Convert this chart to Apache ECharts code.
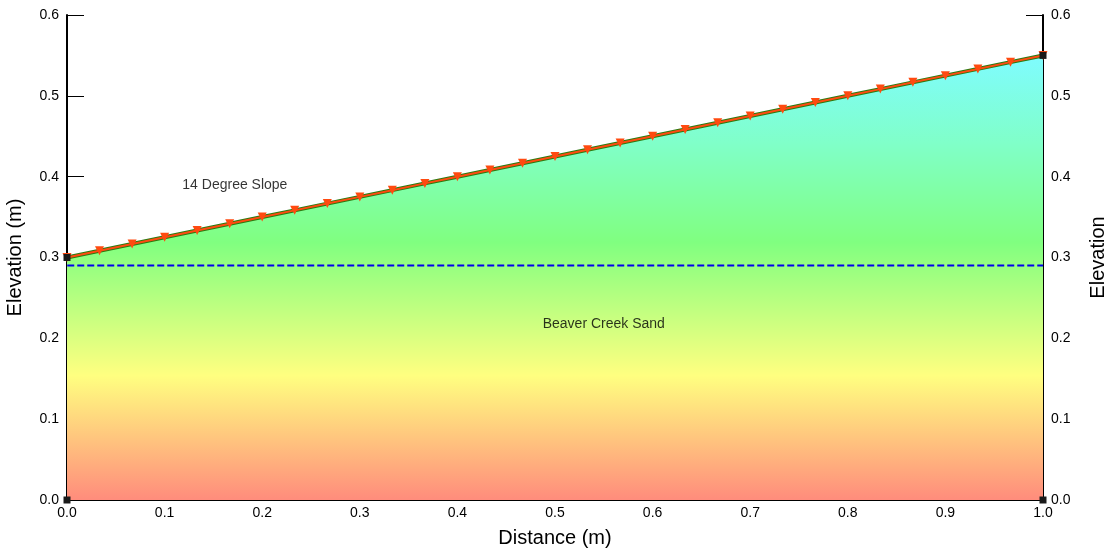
<!DOCTYPE html>
<html>
<head>
<meta charset="utf-8">
<script src="https://cdn.jsdelivr.net/npm/echarts@6/dist/echarts.min.js"></script>
<style>html,body{margin:0;padding:0;background:#fff}#c{width:1113px;height:558px}</style>
</head>
<body>
<div id="c"></div>
<script>
// slope surface points (distance m, elevation m)
const slopeX = [0, 0.0333, 0.0667, 0.1, 0.1333, 0.1667, 0.2, 0.2333, 0.2667, 0.3, 0.3333, 0.3667, 0.4, 0.4333, 0.4667, 0.5, 0.5333, 0.5667, 0.6, 0.6333, 0.6667, 0.7, 0.7333, 0.7667, 0.8, 0.8333, 0.8667, 0.9, 0.9333, 0.9667, 1.0]
const slopeY = [0.3, 0.3083, 0.3167, 0.325, 0.3333, 0.3417, 0.35, 0.3583, 0.3667, 0.375, 0.3833, 0.3917, 0.4, 0.4083, 0.4167, 0.425, 0.4333, 0.4417, 0.45, 0.4583, 0.4667, 0.475, 0.4833, 0.4917, 0.5, 0.5083, 0.5167, 0.525, 0.5333, 0.5417, 0.55]
const waterTable = [[-0.01, 0.29], [1.0, 0.29]]
const labels = [
  { text: '14 Degree Slope', at: [0.172, 0.39] },
  { text: 'Beaver Creek Sand', at: [0.55, 0.217] }
]

const pts = slopeX.map((x, i) => [x, slopeY[i]])
const font = 'Liberation Sans'
const axisCommon = {
  min: 0, max: 0.6, interval: 0.1,
  axisLine: { show: true, lineStyle: { color: '#000', width: 2 } },
  axisTick: { inside: true, length: 17, lineStyle: { color: '#000' } },
  splitLine: { show: false },
  nameLocation: 'middle',
  nameTextStyle: { fontSize: 20, fontFamily: font, color: '#000' },
  axisLabel: { fontSize: 14, fontFamily: font, color: '#000', formatter: v => v.toFixed(1) }
}
const chart = echarts.init(document.getElementById('c'))
chart.setOption({
  animation: false,
  grid: { left: 67, right: 70, top: 15, bottom: 58, containLabel: false, outerBoundsMode: 'none' },
  xAxis: {
    type: 'value', min: 0, max: 1, interval: 0.1,
    name: 'Distance (m)', nameLocation: 'middle', nameGap: 28,
    nameTextStyle: { fontSize: 20, fontFamily: font, color: '#000' },
    axisLine: { show: true, onZero: false, lineStyle: { color: '#000', width: 1 } },
    axisTick: { show: false },
    splitLine: { show: false },
    axisLabel: { fontSize: 14, fontFamily: font, color: '#000', margin: 6, formatter: v => v.toFixed(1) }
  },
  yAxis: [
    Object.assign({}, axisCommon, { position: 'left', name: 'Elevation (m)', nameGap: 42 }),
    Object.assign({}, axisCommon, { position: 'right', name: 'Elevation', nameGap: 45 })
  ],
  series: [
    {
      type: 'line', data: pts, symbol: 'none', z: 1,
      lineStyle: { width: 0 },
      areaStyle: {
        opacity: 1,
        color: new echarts.graphic.LinearGradient(0, 0, 0, 1, [
          { offset: 0, color: '#7ffcff' },
          { offset: 0.2, color: '#80ffc8' },
          { offset: 0.42, color: '#80ff80' },
          { offset: 0.72, color: '#ffff80' },
          { offset: 1, color: '#ff8c7c' }
        ])
      }
    },
    {
      type: 'line', data: pts, symbol: 'none', z: 3,
      lineStyle: { color: '#2d7a10', width: 4 }
    },
    {
      type: 'line', data: pts, z: 4,
      symbol: 'triangle', symbolRotate: 180, symbolSize: 9,
      itemStyle: { color: '#ff4a10' },
      lineStyle: { color: '#ff4a10', width: 2 },
      markPoint: {
        symbol: 'rect', symbolSize: 7, itemStyle: { color: '#1a1a1a' }, label: { show: false },
        data: [{ coord: [0, 0.3] }, { coord: [1, 0.55] }, { coord: [0, 0] }, { coord: [1, 0] }]
      }
    },
    {
      type: 'line', data: waterTable, symbol: 'none', z: 5,
      lineStyle: { color: '#0000ee', width: 2, type: [7, 3] }
    },
    {
      type: 'scatter', data: labels.map(l => ({ value: l.at, name: l.text })),
      symbolSize: 0, z: 6,
      label: { show: true, formatter: p => p.name, fontSize: 14, fontFamily: font, color: '#000', position: 'inside' }
    }
  ]
})
</script>
</body>
</html>
